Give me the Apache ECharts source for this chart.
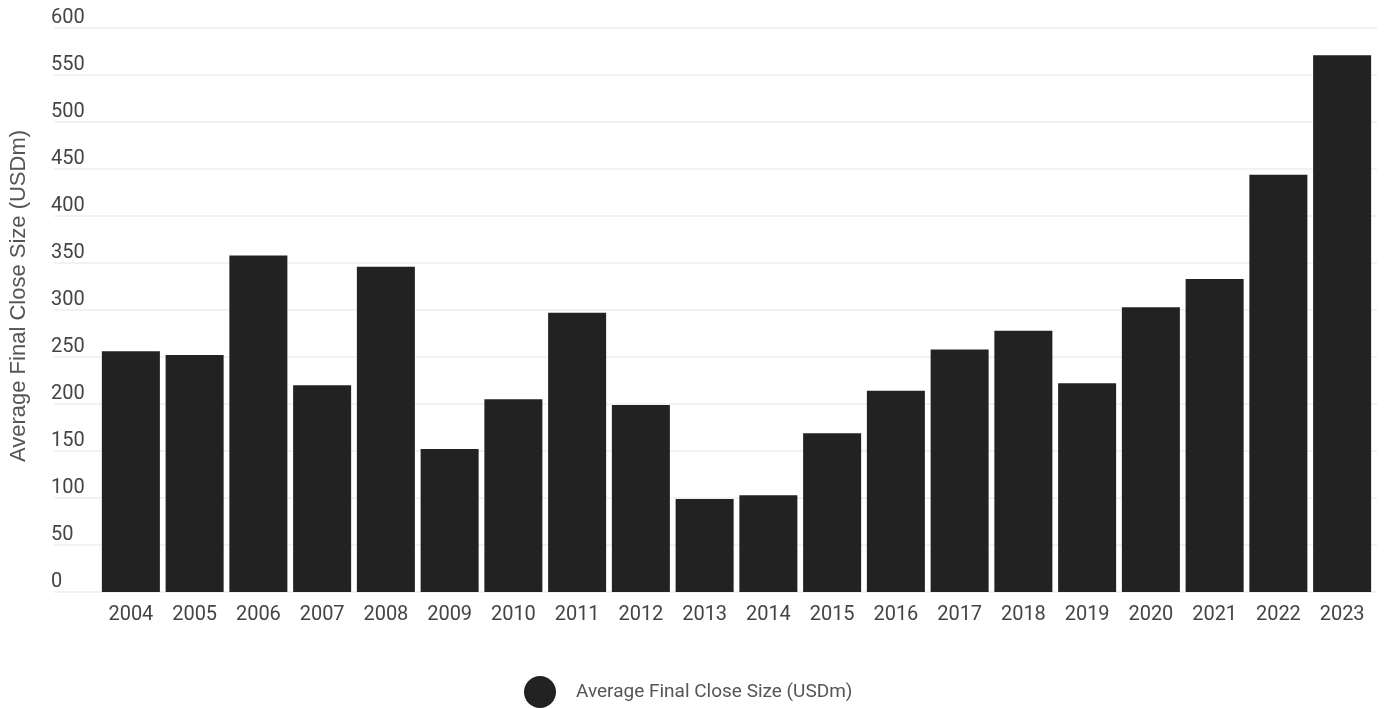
<!DOCTYPE html>
<html>
<head>
<meta charset="utf-8">
<script src="https://cdn.jsdelivr.net/npm/echarts@6/dist/echarts.min.js"></script>
<style>
  html, body { margin: 0; padding: 0; background: #fff; }
  #chart { width: 1384px; height: 708px; }
</style>
</head>
<body>
<div id="chart"></div>
<script>
  var years = ['2004', '2005', '2006', '2007', '2008', '2009', '2010', '2011', '2012', '2013',
    '2014', '2015', '2016', '2017', '2018', '2019', '2020', '2021', '2022', '2023']
  var avgClose = [256, 252, 358, 220, 346, 152, 205, 297, 199, 99,
    103, 169, 214, 258, 278, 222, 303, 333, 444, 571]
  var seriesName = 'Average Final Close Size (USDm)'

  var chart = echarts.init(document.getElementById('chart'))
  var font = 'Roboto, sans-serif'

  var option = {
    animation: false,
    textStyle: { fontFamily: font },
    legend: {
      top: 671,
      left: 519,
      icon: 'circle',
      itemWidth: 32,
      itemHeight: 32,
      textStyle: { color: '#555', fontSize: 19, fontFamily: font, padding: [0, 0, 0, 15] },
      data: [seriesName]
    },
    grid: [
      // wide grid, only for the gridlines and y labels
      { left: 50, right: 7, top: 28, bottom: 116 },
      // bars
      { left: 99, right: 10, top: 28, bottom: 116 }
    ],
    xAxis: [
      { gridIndex: 0, type: 'value', show: false },
      {
        gridIndex: 1,
        type: 'category',
        data: years,
        axisLine: { show: false },
        axisTick: { show: false },
        axisLabel: { color: '#444', fontSize: 20, margin: 13, fontFamily: font }
      }
    ],
    yAxis: [
      {
        gridIndex: 0,
        type: 'value',
        min: 0,
        max: 600,
        interval: 50,
        name: seriesName,
        nameLocation: 'middle',
        nameGap: 24,
        nameTextStyle: {
          color: '#555',
          fontSize: 22,
          fontFamily: '"Liberation Sans", Arial, sans-serif',
          padding: [0, 0, 0, 28]
        },
        axisLine: { show: false },
        axisTick: { show: false },
        axisLabel: {
          inside: true,
          margin: -3,
          color: '#444',
          fontSize: 20,
          fontFamily: font,
          verticalAlign: 'bottom',
          lineHeight: 20,
          padding: [0, 0, 0, 0]
        },
        splitLine: { lineStyle: { color: '#f2f2f2', width: 2 } }
      },
      {
        gridIndex: 1,
        type: 'value',
        min: 0,
        max: 600,
        show: false,
        splitLine: { show: false }
      }
    ],
    series: [
      {
        name: seriesName,
        type: 'bar',
        xAxisIndex: 1,
        yAxisIndex: 1,
        data: avgClose,
        barCategoryGap: '9%',
        itemStyle: { color: '#222222' }
      }
    ]
  }

  chart.setOption(option)
</script>
</body>
</html>
